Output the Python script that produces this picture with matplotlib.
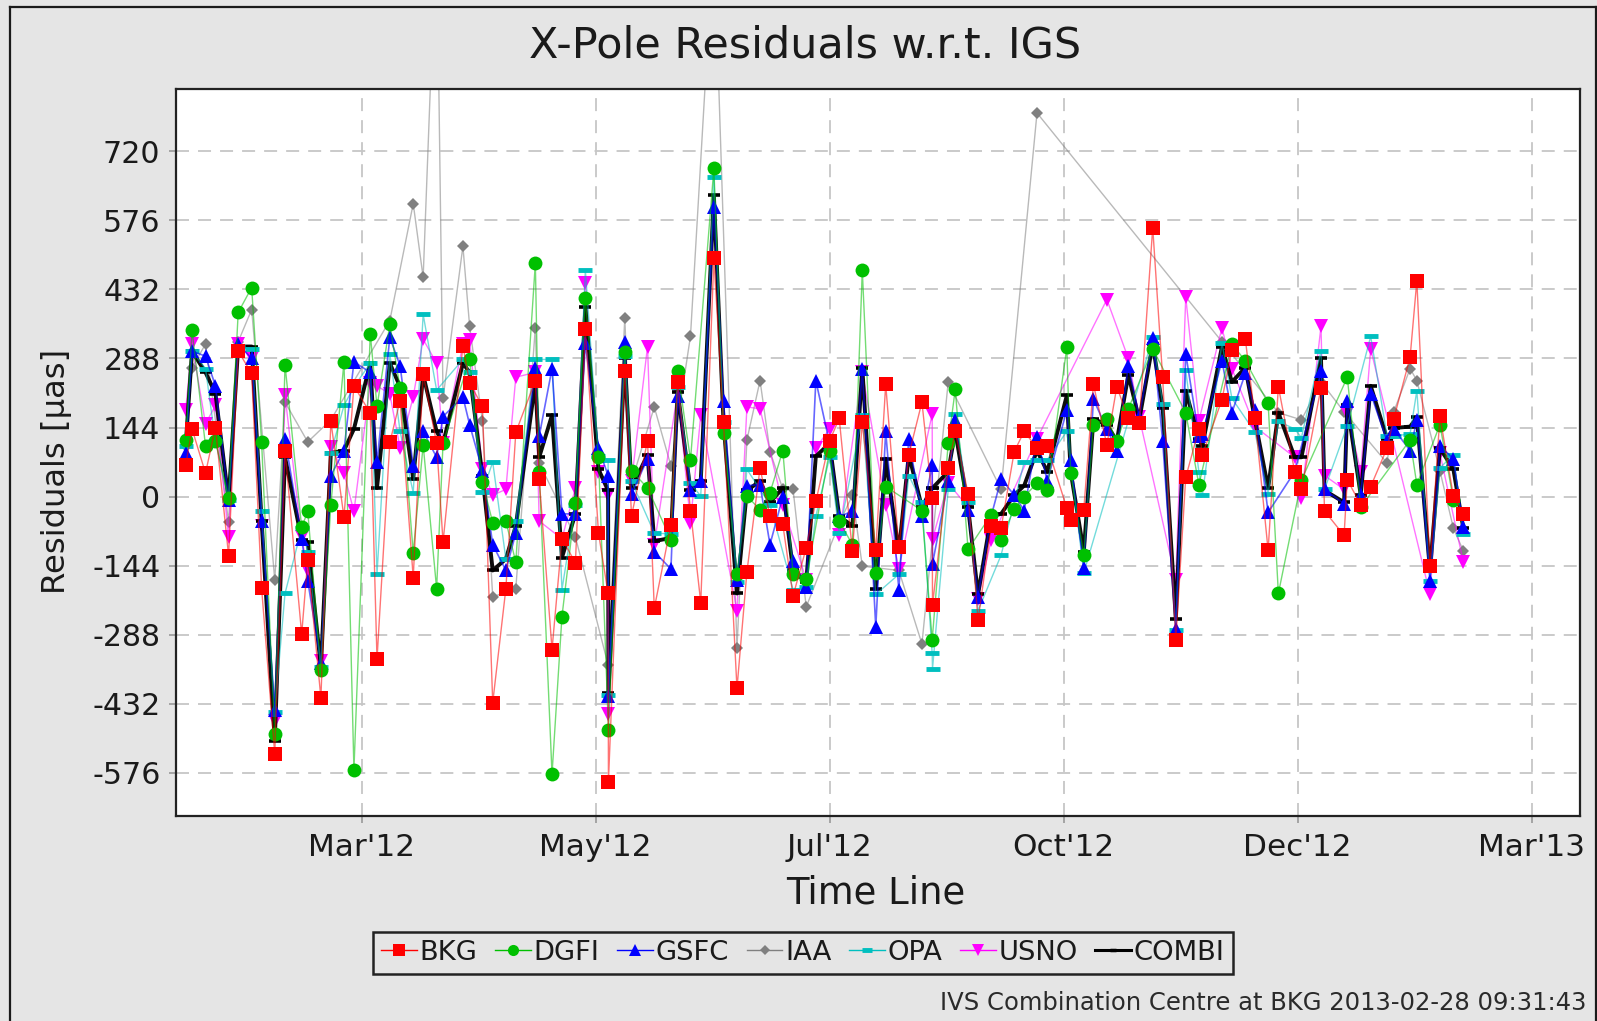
import numpy as np
import matplotlib
matplotlib.use("Agg")
import matplotlib.pyplot as plt
from matplotlib.lines import Line2D

n = float('nan')

title = "X-Pole Residuals w.r.t. IGS"
xlabel = "Time Line"
ylabel = "Residuals [µas]"
footer = "IVS Combination Centre at BKG 2013-02-28 09:31:43"
xtick_days = [0, 73, 146, 219, 292, 365]
xtick_labels = ["Mar'12", "May'12", "Jul'12", "Oct'12", "Dec'12", "Mar'13"]
ytick_vals = [-576, -432, -288, -144, 0, 144, 288, 432, 576, 720]

# days since 2012-03-01
days = [-54.9,-52.9,-48.7,-45.6,-41.5,-38.5,-34.3,-31.2,-27.1,-23.9,-18.7,-16.8,-12.7,-9.6,-5.5,-2.4,2.7,4.8,8.8,12.0,16.1,19.2,23.4,25.4,31.6,33.7,37.7,40.9,
        45.0,48.1,54.2,55.4,59.4,62.5,66.7,69.8,73.9,76.9,77.0,82.1,84.2,89.2,91.3,96.5,98.6,102.6,105.8,109.9,112.9,117.1,120.2,124.3,127.4,131.4,134.6,
        138.7,141.7,146.0,149.0,153.1,156.2,160.4,163.5,167.6,170.7,174.8,178.0,178.1,183.0,185.2,189.2,192.3,196.4,199.5,203.6,206.7,210.7,213.9,220.0,221.2,225.3,228.3,232.5,235.6,
        239.2,242.6,246.8,249.9,254.0,257.1,261.2,262.3,268.4,271.5,275.7,278.7,282.8,286.0,291.1,293.2,299.3,300.4,306.5,307.5,311.7,314.8,319.9,322.0,327.1,329.2,333.3,336.4,340.6,343.7]

bkg = [65,141,49,144,-123,303,257,-191,-536,96,-287,-132,-420,157,-43,231,174,-339,113,200,-169,256,111,-95,315,237,188,-430,
       -192,134,242,37,-319,-88,-138,349,-76,-202,-595,261,-40,116,-233,-59,239,-29,-221,497,155,-400,-157,60,-41,-58,-207,
       -107,-10,116,163,-113,155,-112,234,-105,87,197,-2,-226,59,136,6,-258,-61,-66,94,136,101,105,-24,-49,-27,234,108,229,
       163,153,561,249,-300,40,141,87,202,306,328,164,-112,229,52,15,227,-30,-81,35,-17,21,101,162,291,450,-145,168,1,-37]
dgfi = [119,347,106,116,-2,384,436,113,-496,275,-64,-31,-361,-17,281,-570,340,188,359,226,-117,108,-192,111,n,286,30,-54,
        -51,-137,487,52,-579,-250,-14,414,82,n,-486,301,54,18,n,-90,262,77,n,685,133,-161,1,-27,8,96,-161,
        -172,n,96,-51,-100,472,-159,21,n,n,-29,-299,n,111,224,-110,n,-38,-90,-25,0,28,13,311,49,-122,150,162,116,
        183,n,308,n,n,175,25,n,n,318,283,n,195,-202,n,34,n,n,n,249,-22,n,n,n,118,25,n,150,-7,n]
gsfc = [91,303,293,231,-7,318,288,-51,-445,121,-88,-176,-346,44,96,281,259,72,332,273,64,136,82,167,208,150,54,-100,
        -154,-76,269,126,267,-36,-36,320,101,44,-415,323,5,79,-115,-151,210,13,32,603,200,-174,23,25,-100,0,-135,
        -189,242,111,-41,-31,267,-272,136,-194,121,-41,65,-140,32,160,-27,-209,-41,37,3,-29,124,32,180,77,-148,203,141,96,
        273,165,330,116,-277,298,126,131,283,175,257,180,-33,n,52,n,261,15,-15,200,3,215,116,141,96,160,-176,106,79,-64]
iaa = [106,269,318,n,-53,323,390,n,-174,197,n,114,n,160,n,n,n,n,367,n,611,457,1200,205,522,355,157,-209,
       n,-192,352,70,n,n,-84,n,n,-351,n,372,30,n,187,64,n,335,n,1170,n,-315,118,242,94,16,15,
       -230,n,n,-56,3,-145,n,n,-154,n,-307,n,n,239,n,n,n,n,15,n,n,800,n,n,n,n,n,n,n,
       n,n,n,n,n,n,n,n,323,n,n,n,n,175,n,160,239,n,177,n,n,n,70,177,267,242,n,54,-66,-113]
opa = [106,303,267,116,-7,313,308,-31,-449,-202,-66,-115,-356,91,190,229,278,-162,298,136,8,380,222,n,286,260,10,72,
       -130,-51,286,n,286,-194,-17,472,85,77,-413,293,32,n,-76,-78,229,28,1,667,155,-179,57,n,-17,n,-194,
       -189,-41,82,-76,n,170,-204,n,-162,44,-12,-327,-359,15,172,-12,-238,n,-122,n,72,77,77,136,n,-159,n,n,n,
       n,n,332,194,-279,263,52,3,321,205,n,134,6,157,141,123,304,15,n,148,n,334,126,126,131,221,-176,60,87,-78]
usno = [180,318,152,190,-84,318,288,-61,-467,211,-85,-155,-343,103,49,-31,236,231,214,101,208,328,278,111,318,326,57,3,
        15,249,259,-51,n,-88,18,446,52,3,-454,249,32,313,-100,n,219,-54,170,n,n,-238,187,183,n,-17,n,
        -174,101,141,-81,n,259,n,-17,-150,n,n,172,-88,28,n,-22,-213,-90,n,n,n,121,n,n,n,n,n,411,n,
        288,165,n,n,-174,416,158,n,352,267,n,146,n,n,82,-2,355,44,15,175,52,308,n,n,n,n,-204,91,n,-137]
combi = [106,303,259,215,-7,313,313,-51,-509,82,-90,-95,-356,91,96,141,278,18,278,229,37,254,136,111,278,259,42,-154,
         -130,-61,239,82,170,-127,-36,396,57,13,-410,288,18,87,-93,-86,219,13,32,628,155,-202,13,32,-12,18,-154,
         -179,84,111,-41,-61,269,-192,79,-115,87,-22,18,18,52,136,-22,-204,-41,-36,3,23,96,52,211,52,-115,162,150,116,
         254,160,318,185,-255,221,121,106,313,239,269,160,18,175,82,82,288,13,-12,190,3,231,121,143,146,165,-154,101,57,-66]

W, H = 1597, 1021
BG = "#E5E5E5"
plt.rcParams['font.family'] = ['DejaVu Sans']
plt.rcParams['axes.unicode_minus'] = False
fig = plt.figure(figsize=(W/100, H/100), dpi=100, facecolor=BG)

def fx(p): return p / W
def fy(p): return 1 - p / H

L, R, T, B = 175.7, 1580, 88.5, 816
ax = fig.add_axes([fx(L), fy(B), (R-L)/W, (B-T)/H])
ax.set_facecolor("white")
ax.set_xlim(-58.0, 380.1)
ax.set_ylim(-666, 851)

styles = [
    ("USNO", usno, dict(color="#FF00FF", marker="v", ms=10, lw=1.0, alpha_line=0.55, mew=0), 3),
    ("COMBI", combi, dict(color="#000000", marker="_", ms=9, lw=2.8, alpha_line=0.95, mew=2.6), 4),
    ("OPA", opa, dict(color="#00BFBF", marker="_", ms=10, lw=1.0, alpha_line=0.55, mew=3.5), 5),
    ("IAA", iaa, dict(color="#808080", marker="D", ms=6.5, lw=1.0, alpha_line=0.55, mew=0), 2),
    ("GSFC", gsfc, dict(color="#0000FF", marker="^", ms=10, lw=1.2, alpha_line=0.6, mew=0), 6),
    ("DGFI", dgfi, dict(color="#00C000", marker="o", ms=10, lw=1.0, alpha_line=0.55, mew=0), 7),
    ("BKG", bkg, dict(color="#FF0000", marker="s", ms=10, lw=1.0, alpha_line=0.55, mew=0), 8),
]
d = np.array(days)
handles = {}
for name, vals, st, z in styles:
    v = np.array(vals, dtype=float)
    m = np.isfinite(v)
    c = st["color"]
    ax.plot(d[m], v[m], color=c, lw=st["lw"], alpha=st["alpha_line"], zorder=z, solid_joinstyle="round")
    ax.plot(d[m], v[m], ls="none", marker=st["marker"], ms=st["ms"], color=c,
            mfc=c, mec=c, mew=st["mew"], zorder=z + 0.5)
    hms = {"BKG": 8, "DGFI": 8, "GSFC": 8, "IAA": 5.5, "OPA": 7, "USNO": 9, "COMBI": 5}[name]
    handles[name] = Line2D([], [], color=c, lw=1.0 if name != "COMBI" else 2.2,
                           marker=st["marker"], ms=hms, mfc=c, mec=c,
                           mew=st["mew"] if name != "COMBI" else 2.5)

ax.set_xticks(xtick_days)
ax.set_xticklabels(xtick_labels)
ax.set_yticks(ytick_vals)
ax.grid(True, color="#C6C6C6", lw=1.3, ls=(0, (7.2, 5)))
ax.set_axisbelow(True)
ax.tick_params(axis="x", labelsize=22.4, length=5, width=1.2, color="#999999", pad=7, labelcolor="#1A1A1A")
ax.tick_params(axis="y", labelsize=21.6, length=5, width=1.2, color="#999999", pad=6, labelcolor="#1A1A1A")
for s in ax.spines.values():
    s.set_linewidth(1.6)
    s.set_color("#222222")

fig.text(fx(805), fy(46), title, ha="center", va="center", fontsize=30.9, color="#1A1A1A")
fig.text(fx(876), fy(893), xlabel, ha="center", va="center", fontsize=26.6, color="#1A1A1A")
fig.text(fx(57), fy(471), ylabel, ha="center", va="center", rotation=90, fontsize=23.2, color="#1A1A1A")
fig.text(fx(1587), fy(1003), footer, ha="right", va="center", fontsize=17.5, color="#2A2A2A")

order = ["BKG", "DGFI", "GSFC", "IAA", "OPA", "USNO", "COMBI"]
leg = fig.legend([handles[k] for k in order], order, ncol=7, loc="center",
                 bbox_to_anchor=(fx(803), fy(953)), fontsize=19.7, frameon=True, fancybox=False,
                 facecolor=BG, edgecolor="#222222", framealpha=1,
                 handlelength=1.3, handletextpad=0.1, columnspacing=0.65,
                 borderpad=0.3, borderaxespad=0)
leg.get_frame().set_linewidth(1.8)
for t in leg.get_texts():
    t.set_color("#1A1A1A")

# outer image border
for xs, ys in [((10, 10), (7, H)), ((10, 1596), (7, 7)), ((1596, 1596), (7, H))]:
    fig.add_artist(Line2D([fx(p) for p in xs], [fy(p) for p in ys],
                          transform=fig.transFigure, color="#1A1A1A", lw=1.6))

fig.savefig("out.png", dpi=100, facecolor=BG)
